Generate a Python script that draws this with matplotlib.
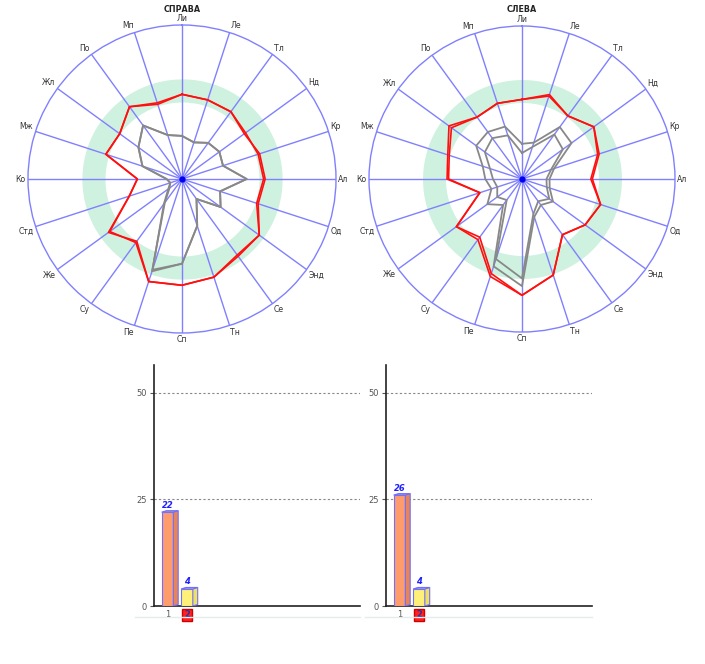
import numpy as np
import matplotlib
matplotlib.use("Agg")
import matplotlib.pyplot as plt
from matplotlib.patches import Polygon

# ---------------- data ----------------
axis_labels = ["Ли", "Ле", "Тл", "Нд", "Кр", "Ал", "Од", "Энд", "Се", "Тн",
               "Сп", "Пе", "Су", "Же", "Стд", "Ко", "Мж", "Жл", "По", "Мп"]

titles = ["СПРАВА", "СЛЕВА"]

# right side (СПРАВА)
right_red_a = [0.55, 0.54, 0.54, 0.50, 0.53, 0.54, 0.52, 0.62, 0.62, 0.67,
               0.69, 0.70, 0.50, 0.59, 0.36, 0.29, 0.52, 0.50, 0.58, 0.51]
right_red_b = [0.55, 0.54, 0.54, 0.51, 0.52, 0.53, 0.51, 0.62, 0.61, 0.67,
               0.69, 0.70, 0.51, 0.58, 0.36, 0.29, 0.52, 0.50, 0.58, 0.52]
right_gray_a = [0.28, 0.25, 0.29, 0.30, 0.28, 0.42, 0.26, 0.31, 0.16, 0.32,
                0.55, 0.63, 0.19, 0.10, 0.08, 0.10, 0.27, 0.35, 0.43, 0.30]
right_gray_b = [0.28, 0.25, 0.29, 0.30, 0.28, 0.42, 0.26, 0.31, 0.16, 0.32,
                0.55, 0.62, 0.20, 0.11, 0.08, 0.10, 0.27, 0.35, 0.43, 0.30]

# left side (СЛЕВА)
left_red_a = [0.52, 0.58, 0.51, 0.58, 0.52, 0.45, 0.54, 0.51, 0.45, 0.66,
              0.76, 0.67, 0.49, 0.53, 0.29, 0.49, 0.51, 0.59, 0.50, 0.52]
left_red_b = [0.52, 0.57, 0.51, 0.58, 0.53, 0.46, 0.54, 0.51, 0.45, 0.66,
              0.76, 0.65, 0.47, 0.53, 0.29, 0.48, 0.50, 0.57, 0.50, 0.52]
left_gray_a = [0.23, 0.25, 0.42, 0.40, 0.22, 0.18, 0.19, 0.25, 0.21, 0.26,
               0.70, 0.60, 0.21, 0.28, 0.21, 0.24, 0.27, 0.37, 0.38, 0.36]
left_gray_b = [0.17, 0.22, 0.36, 0.33, 0.20, 0.16, 0.17, 0.22, 0.18, 0.24,
               0.65, 0.55, 0.17, 0.20, 0.17, 0.19, 0.22, 0.30, 0.33, 0.30]

band_low, band_high = 0.50, 0.65

bar_categories = ["1", "2"]
bars_right = [22, 4]
bars_left = [26, 4]
bar_ticks = [0, 25, 50]

# ---------------- styling ----------------
SPOKE = "#8080ff"
BAND = "#cff1df"
RED = "#ff1010"
GRAY = "#888888"

fig = plt.figure(figsize=(7.05, 6.64), dpi=100)
W, H = 705, 664


def px_axes(x0, y0, x1, y1, **kw):
    return fig.add_axes([x0 / W, 1 - y1 / H, (x1 - x0) / W, (y1 - y0) / H], **kw)


def radar(ax, title, title_x, reds, grays):
    n = len(axis_labels)
    theta = np.arange(n) * 2 * np.pi / n
    ax.set_theta_zero_location("N")
    ax.set_theta_direction(-1)
    ax.set_ylim(0, 1)
    ax.grid(False)
    ax.set_xticks([])
    ax.set_yticks([])
    ax.spines["polar"].set_color(SPOKE)
    ax.spines["polar"].set_linewidth(1.0)
    ax.patch.set_alpha(0)
    tt = np.linspace(0, 2 * np.pi, 361)
    ax.fill_between(tt, band_low, band_high, color=BAND, lw=0, zorder=1)
    for t in theta:
        ax.plot([t, t], [0, 1], color=SPOKE, lw=1.0, zorder=2)
    ax.plot([0], [0], marker="o", ms=3.5, color="#0000ee", zorder=6)
    tc = np.append(theta, theta[0])
    for g in grays:
        ax.plot(tc, np.append(g, g[0]), color=GRAY, lw=1.3, zorder=3)
    for r in reds:
        ax.plot(tc, np.append(r, r[0]), color=RED, lw=1.2, zorder=4)
    for t, lab in zip(theta, axis_labels):
        s, c = np.sin(t), np.cos(t)
        if abs(s) < 0.05:
            ha = "center"
        elif s > 0:
            ha = "left"
        else:
            ha = "right"
        if abs(c) < 0.05:
            va = "center"
        elif c > 0:
            va = "bottom"
        else:
            va = "top"
        ax.text(t, 1.015, lab, ha=ha, va=va, fontsize=5.6, color="#333333",
                family="DejaVu Sans")
    fig.text(title_x / W, 1 - 9 / H, title, ha="center", va="center",
             fontsize=5.8, fontweight="bold", color="#222222")


ax1 = px_axes(28, 25, 336, 333, projection="polar")
radar(ax1, titles[0], 182, [right_red_a, right_red_b], [right_gray_a, right_gray_b])
ax2 = px_axes(369, 26, 675, 332, projection="polar")
radar(ax2, titles[1], 522, [left_red_a, left_red_b], [left_gray_a, left_gray_b])

BAR_COLORS = ["#ff9c6c", "#fff07a"]
SIDE_COLORS = ["#e8845a", "#f0e060"]
TOP_COLORS = ["#c8a0a0", "#c8c8a0"]
EDGE = "#7070ff"


def bars(ax, vals):
    ax.set_xlim(0.31, 10.87)
    ax.set_ylim(0, 56.5)
    x = np.arange(1, len(vals) + 1)
    w = 0.6
    dx, dy = 0.25, 0.35
    for i, (xi, v) in enumerate(zip(x, vals)):
        ax.bar(xi, v, width=w, color=BAR_COLORS[i], edgecolor=EDGE, lw=0.8, zorder=3)
        l, r = xi - w / 2, xi + w / 2
        side = Polygon([(r, 0), (r + dx, dy), (r + dx, v + dy), (r, v)],
                       closed=True, fc=SIDE_COLORS[i], ec=EDGE, lw=0.8, zorder=3)
        top = Polygon([(l, v), (l + dx, v + dy), (r + dx, v + dy), (r, v)],
                      closed=True, fc=TOP_COLORS[i], ec=EDGE, lw=0.8, zorder=3)
        ax.add_patch(side)
        ax.add_patch(top)
        ax.text(xi, v + 0.6, str(v), ha="center", va="bottom", fontsize=6,
                fontweight="bold", fontstyle="italic", color="#2020ff", zorder=5)
    for s in ["top", "right"]:
        ax.spines[s].set_visible(False)
    ax.spines["left"].set_color("#222222")
    ax.spines["bottom"].set_color("#222222")
    ax.spines["left"].set_linewidth(1.2)
    ax.spines["bottom"].set_linewidth(1.2)
    ax.set_yticks(bar_ticks)
    ax.set_yticklabels([str(t) for t in bar_ticks], fontsize=6, color="#555555")
    ax.tick_params(axis="y", length=3, color="#555555", pad=2)
    for t in bar_ticks[1:]:
        ax.axhline(t, color="#888888", lw=0.8, ls=(0, (2, 2)), zorder=1)
    ax.set_xticks(x)
    ax.set_xticklabels(bar_categories, fontsize=6, color="#555555")
    ax.tick_params(axis="x", length=0, pad=3)
    lab2 = ax.get_xticklabels()[1]
    lab2.set_color("#3030a0")
    lab2.set_fontweight("bold")
    lab2.set_bbox(dict(boxstyle="square,pad=0.2", fc="#ff2020", ec="#d00000"))
    ax.patch.set_alpha(0)


bx1 = px_axes(154, 365, 360, 606)
bars(bx1, bars_right)
bx2 = px_axes(386, 365, 592, 606)
bars(bx2, bars_left)

for x0, x1 in [(135, 360), (365, 592)]:
    fig.add_artist(plt.Line2D([x0 / W, x1 / W], [1 - 617 / H, 1 - 617 / H],
                              color="#e4ecec", lw=1.0))

fig.savefig("out.png", dpi=100)
